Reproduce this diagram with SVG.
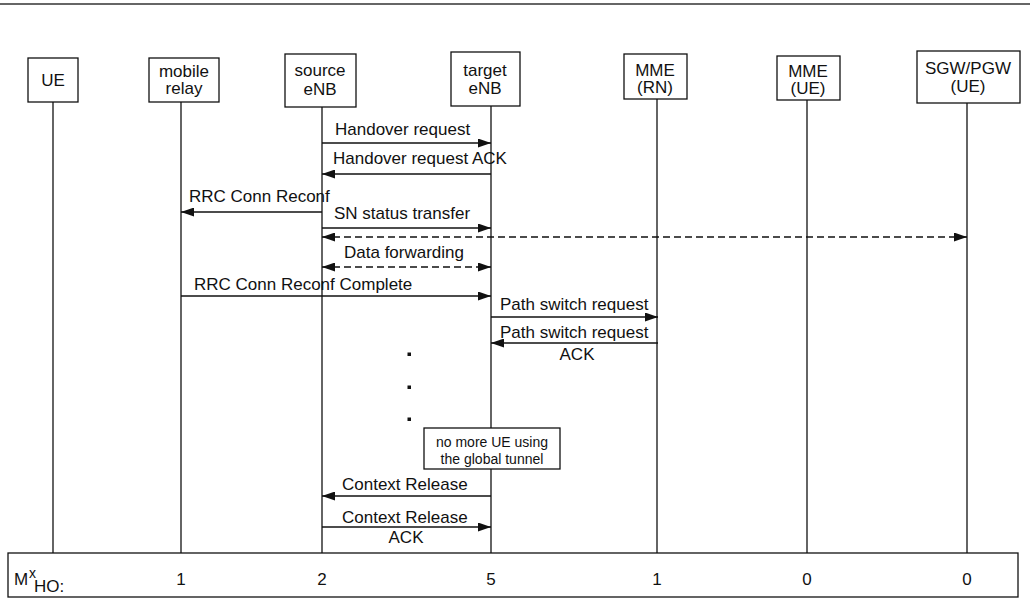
<svg xmlns="http://www.w3.org/2000/svg" width="1030" height="599" viewBox="0 0 1030 599">
<defs>
<style>
.t{font-family:"Liberation Sans",Arial,sans-serif;font-size:17px;fill:#111}
.c{text-anchor:middle}
.s{font-size:14px}
.box{fill:#fff;stroke:#111;stroke-width:1.3}
.life{stroke:#111;stroke-width:1.3}
.msg{stroke:#111;stroke-width:1.3;fill:none}
.dash{stroke-dasharray:7,4}
</style>
<marker id="ah" viewBox="0 0 13 9" refX="13" refY="4.5" markerWidth="13" markerHeight="9" markerUnits="userSpaceOnUse" orient="auto-start-reverse">
<path d="M0,0 L13,4.5 L0,9 z" fill="#111"/>
</marker>
</defs>
<rect width="1030" height="599" fill="#fff"/>
<line x1="0" y1="4" x2="1030" y2="4" stroke="#333" stroke-width="1.6"/>

<g id="lifelines">
<line class="life" x1="53" y1="102" x2="53" y2="553"/>
<line class="life" x1="181" y1="102" x2="181" y2="553"/>
<line class="life" x1="322" y1="107" x2="322" y2="553"/>
<line class="life" x1="491" y1="106" x2="491" y2="553"/>
<line class="life" x1="657" y1="99" x2="657" y2="553"/>
<line class="life" x1="807" y1="100" x2="807" y2="553"/>
<line class="life" x1="967" y1="103" x2="967" y2="553"/>
</g>

<g id="n-ue"><rect class="box" x="28" y="58" width="50" height="44"/><text class="t c" x="53" y="86">UE</text></g>
<g id="n-relay"><rect class="box" x="149" y="58" width="70" height="44"/><text class="t c" x="184" y="77">mobile</text><text class="t c" x="184" y="94">relay</text></g>
<g id="n-src"><rect class="box" x="285" y="54" width="71" height="53"/><text class="t c" x="320" y="76">source</text><text class="t c" x="320" y="95">eNB</text></g>
<g id="n-tgt"><rect class="box" x="451" y="52" width="69" height="54"/><text class="t c" x="485" y="76">target</text><text class="t c" x="485" y="94">eNB</text></g>
<g id="n-mmern"><rect class="box" x="624" y="54" width="63" height="45"/><text class="t c" x="655" y="76">MME</text><text class="t c" x="655" y="93">(RN)</text></g>
<g id="n-mmeue"><rect class="box" x="777" y="56" width="63" height="44"/><text class="t c" x="808" y="77">MME</text><text class="t c" x="808" y="94">(UE)</text></g>
<g id="n-sgw"><rect class="box" x="917" y="51" width="103" height="52"/><text class="t c" x="968" y="74">SGW/PGW</text><text class="t c" x="968" y="92">(UE)</text></g>

<g id="connectors">
<line class="msg" x1="322" y1="143" x2="491" y2="143" marker-end="url(#ah)"/>
<line class="msg" x1="491" y1="174" x2="322" y2="174" marker-end="url(#ah)"/>
<line class="msg" x1="322" y1="212" x2="181" y2="212" marker-end="url(#ah)"/>
<line class="msg" x1="322" y1="228" x2="491" y2="228" marker-end="url(#ah)"/>
<line class="msg dash" x1="322" y1="237" x2="967" y2="237" marker-start="url(#ah)" marker-end="url(#ah)"/>
<line class="msg dash" x1="322" y1="267" x2="491" y2="267" marker-start="url(#ah)" marker-end="url(#ah)"/>
<line class="msg" x1="181" y1="296" x2="491" y2="296" marker-end="url(#ah)"/>
<line class="msg" x1="491" y1="317" x2="658" y2="317" marker-end="url(#ah)"/>
<line class="msg" x1="658" y1="343" x2="491" y2="343" marker-end="url(#ah)"/>
<line class="msg" x1="491" y1="496" x2="322" y2="496" marker-end="url(#ah)"/>
<line class="msg" x1="322" y1="527" x2="491" y2="527" marker-end="url(#ah)"/>
</g>

<g id="labels">
<text class="t" x="335" y="135">Handover request</text>
<text class="t" x="333" y="164">Handover request ACK</text>
<text class="t" x="189" y="202">RRC Conn Reconf</text>
<text class="t" x="334" y="219">SN status transfer</text>
<text class="t" x="344" y="258">Data forwarding</text>
<text class="t" x="194" y="290">RRC Conn Reconf Complete</text>
<text class="t" x="500" y="310">Path switch request</text>
<text class="t" x="500" y="338">Path switch request</text>
<text class="t c" x="577" y="360">ACK</text>
<text class="t" x="342" y="490">Context Release</text>
<text class="t" x="342" y="523">Context Release</text>
<text class="t c" x="406" y="543">ACK</text>
</g>

<g id="dots" fill="#111">
<rect x="407.5" y="352.5" width="3.5" height="3.5"/>
<rect x="407.5" y="385.5" width="3.5" height="3.5"/>
<rect x="407.5" y="417.5" width="3.5" height="3.5"/>
</g>

<g id="note"><rect class="box" x="424" y="428" width="136" height="41"/><text class="t s c" x="492" y="447">no more UE using</text><text class="t s c" x="492" y="464">the global tunnel</text></g>

<g id="mho">
<rect class="box" x="8" y="553" width="1010" height="44"/>
<text class="t" x="14" y="585">M</text>
<text class="t s" x="29" y="578">x</text>
<text class="t" x="34" y="592">HO:</text>
<text class="t c" x="181" y="585">1</text>
<text class="t c" x="322" y="585">2</text>
<text class="t c" x="491" y="585">5</text>
<text class="t c" x="657" y="585">1</text>
<text class="t c" x="807" y="585">0</text>
<text class="t c" x="967" y="585">0</text>
</g>
</svg>
